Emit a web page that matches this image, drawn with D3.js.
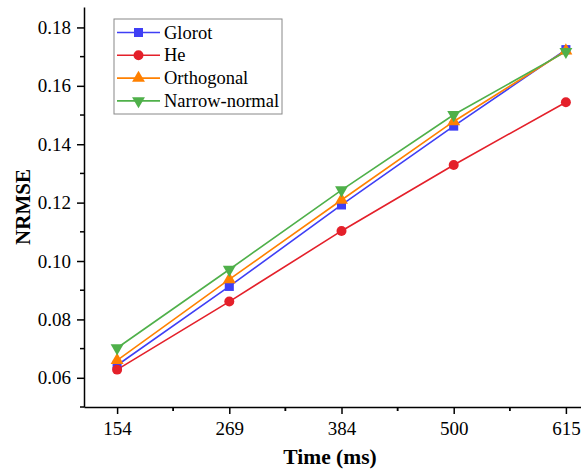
<!DOCTYPE html>
<html>
<head>
<meta charset="utf-8">
<script src="https://cdn.jsdelivr.net/npm/d3@7"></script>
<style>
  body { margin: 0; background: #fff; }
  svg { display: block; font-family: "Liberation Serif", "Times New Roman", serif; }
  svg text { font-family: "Liberation Serif", "Times New Roman", serif; }
</style>
</head>
<body>
<div class="chart"></div>
<script>
// data
const times = [154, 269, 384, 500, 615];
const xTickLabels = ["154", "269", "384", "500", "615"];
const glorot = [0.0643, 0.0913, 0.1192, 0.1462, 0.1724];
const he = [0.0628, 0.0861, 0.1103, 0.1329, 0.1544];
const orthogonal = [0.0660, 0.0937, 0.1209, 0.1478, 0.1720];
const narrowNormal = [0.0702, 0.0971, 0.1243, 0.1501, 0.1717];
const yTicks = [0.06, 0.08, 0.10, 0.12, 0.14, 0.16, 0.18];

const series = [
  {name: "Glorot", values: glorot, color: "#3f3ff5", symbol: d3.symbolSquare, rot: 0},
  {name: "He", values: he, color: "#e4202a", symbol: d3.symbolCircle, rot: 0},
  {name: "Orthogonal", values: orthogonal, color: "#ff8000", symbol: d3.symbolTriangle, rot: 0},
  {name: "Narrow-normal", values: narrowNormal, color: "#4fb04a", symbol: d3.symbolTriangle, rot: 180}
];

const W = 581, H = 473;
var svg = d3.select(".chart").append("svg")
  .attr("width", W)
  .attr("height", H);

// x ticks sit at equal steps between 154 and 615
const step = (615 - 154) / 4;
const tickPos = times.map((t, i) => 154 + step * i);

var x = d3.scaleLinear().domain([120, 649]).range([84, 599]);
var y = d3.scaleLinear().domain([0.05, 0.187]).range([407, 7]);

//** axes */
const xAxis = d3.axisBottom(x)
  .tickValues(tickPos)
  .tickFormat((d, i) => xTickLabels[i])
  .tickSize(7)
  .tickPadding(8)
  .tickSizeOuter(0);
svg.append("g").attr("transform", "translate(0,407)").call(xAxis);

// minor x ticks
const xMinor = [];
for (let i = 0; i < 5; i++) xMinor.push(154 + step * (i - 0.5), 154 + step * (i + 0.5));
svg.append("g").selectAll("line").data(xMinor.filter(v => x(v) > 84 && x(v) < W)).join("line")
  .attr("x1", d => x(d)).attr("x2", d => x(d))
  .attr("y1", 407).attr("y2", 411)
  .attr("stroke", "#000").attr("stroke-width", 1.5);

const yAxis = d3.axisLeft(y)
  .tickValues(yTicks)
  .tickFormat(d3.format(".2f"))
  .tickSize(7)
  .tickPadding(6)
  .tickSizeOuter(0);
svg.append("g").attr("transform", "translate(84,0)").call(yAxis);

// minor y ticks
const yMinor = [0.05, 0.07, 0.09, 0.11, 0.13, 0.15, 0.17];
svg.append("g").selectAll("line").data(yMinor).join("line")
  .attr("x1", 84).attr("x2", 80)
  .attr("y1", d => y(d)).attr("y2", d => y(d))
  .attr("stroke", "#000").attr("stroke-width", 1.5);

svg.selectAll(".domain, .tick line").attr("stroke", "#000").attr("stroke-width", 1.5);
svg.selectAll(".tick text").attr("font-size", 19).attr("fill", "#000");

// axis titles
svg.append("text")
  .attr("x", 330).attr("y", 464)
  .attr("text-anchor", "middle")
  .attr("font-size", 21.5).attr("font-weight", "bold")
  .text("Time (ms)");
svg.append("text")
  .attr("transform", "translate(30,207) rotate(-90)")
  .attr("text-anchor", "middle")
  .attr("font-size", 21).attr("font-weight", "bold")
  .text("NRMSE");

//** lines and markers */
const line = d3.line().x((d, i) => x(tickPos[i])).y(d => y(d));
series.forEach(s => {
  svg.append("path").datum(s.values)
    .attr("d", line)
    .attr("fill", "none")
    .attr("stroke", s.color)
    .attr("stroke-width", 1.6);
});
const symSize = s => s.symbol === d3.symbolTriangle ? 72 : (s.symbol === d3.symbolCircle ? 78 : 82);
series.forEach(s => {
  svg.append("g").selectAll("path").data(s.values).join("path")
    .attr("d", d3.symbol().type(s.symbol).size(symSize(s)))
    .attr("transform", (d, i) => `translate(${x(tickPos[i])},${y(d)}) rotate(${s.rot})`)
    .attr("fill", s.color);
});

//** legend */
const leg = svg.append("g").attr("transform", "translate(114,19)");
leg.append("rect")
  .attr("width", 168).attr("height", 95)
  .attr("fill", "#fff").attr("stroke", "#888").attr("stroke-width", 1);
series.forEach((s, i) => {
  const ly = 13.5 + i * 22.8;
  leg.append("line")
    .attr("x1", 3).attr("x2", 46).attr("y1", ly).attr("y2", ly)
    .attr("stroke", s.color).attr("stroke-width", 1.6);
  leg.append("path")
    .attr("d", d3.symbol().type(s.symbol).size(symSize(s)))
    .attr("transform", `translate(24.5,${ly}) rotate(${s.rot})`)
    .attr("fill", s.color);
  leg.append("text")
    .attr("x", 50).attr("y", ly + 6)
    .attr("font-size", 18.5)
    .text(s.name);
});
</script>
</body>
</html>
